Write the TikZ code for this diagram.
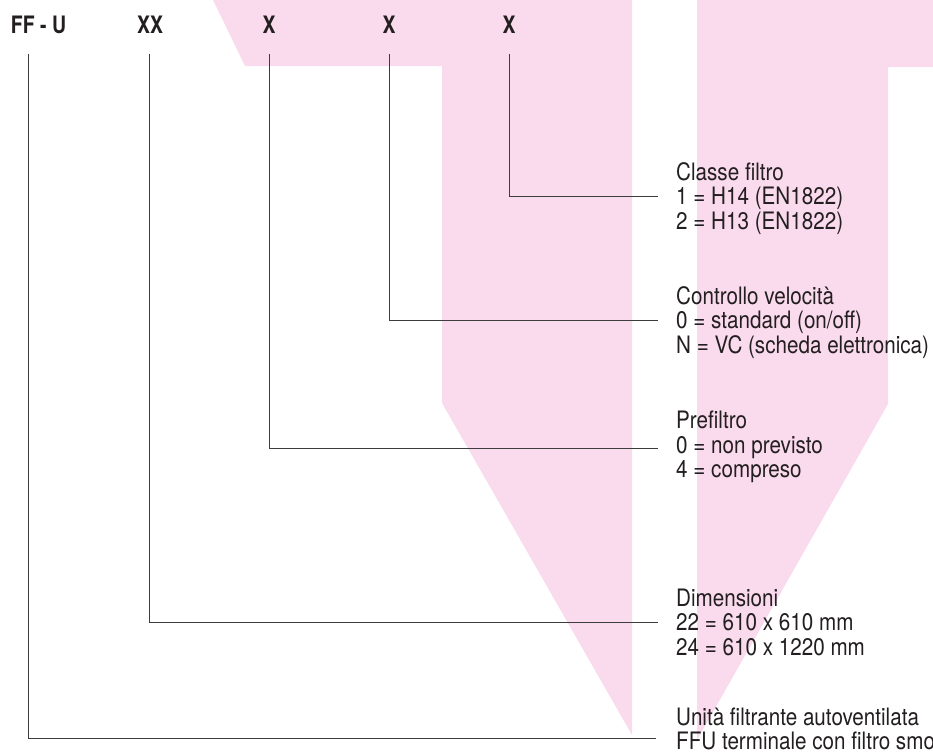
\documentclass[tikz,border=0pt]{standalone}
\usepackage{fontspec}
\setmainfont{TeX Gyre Heros}[FakeStretch=0.86, BoldFeatures={FakeStretch=0.81}]
\definecolor{tint}{RGB}{250,218,237}
\definecolor{ink}{RGB}{35,31,32}
\definecolor{rule}{RGB}{60,60,60}
\begin{document}
\begin{tikzpicture}[x=1pt,y=-1pt,
  code/.style={font=\bfseries\fontsize{24}{25}\selectfont, text=ink, inner sep=0pt, anchor=base},
  entry/.style={font=\fontsize{24}{24.5}\selectfont, text=ink, inner sep=0pt, anchor=base west},
  leader/.style={draw=rule, line width=1pt}]
\useasboundingbox (0,0) rectangle (933,755);
\clip (0,0) rectangle (933,755);

% pink background arrows
\fill[tint] (213,0) -- (632,0) -- (632,735) -- (442,403) -- (442,66) -- (245,66) -- cycle;
\fill[tint] (697,0) -- (940,0) -- (940,67) -- (888,67) -- (888,404) -- (697,740) -- cycle;

% code fields
\node[code] (ffu) at (38.5,33) {FF - U};
\node[code] (xx)  at (150,33) {XX};
\node[code] (pf)  at (269,33) {X};
\node[code] (vc)  at (389,33) {X};
\node[code] (cl)  at (509,33) {X};

% descriptions
\node[entry] (cl1) at (676,180)   {Classe filtro};
\node[entry] (cl2) at (676,204.5) {1 = H14 (EN1822)};
\node[entry] (cl3) at (676,229)   {2 = H13 (EN1822)};

\node[entry] (vc1) at (676,304)   {Controllo velocità};
\node[entry] (vc2) at (676,328.5) {0 = standard (on/off)};
\node[entry] (vc3) at (676,353)   {N = VC (scheda elettronica)};

\node[entry] (pf1) at (676,428)   {Prefiltro};
\node[entry] (pf2) at (676,453)   {0 = non previsto};
\node[entry] (pf3) at (676,477.5) {4 = compreso};

\node[entry] (xx1) at (676,606)   {Dimensioni};
\node[entry] (xx2) at (676,630.5) {22 = 610 x 610 mm};
\node[entry] (xx3) at (676,655)   {24 = 610 x 1220 mm};

\node[entry] (ffu1) at (676,725)   {Unità filtrante autoventilata};
\node[entry] (ffu2) at (676,749.5) {FFU terminale con filtro smontabile};

% leaders
\draw[leader] (cl.south) ++(0,21) |- ([shift={(-18,-8)}]cl2.base west);
\draw[leader] (vc.south) ++(0,21) |- ([shift={(-18,-8)}]vc2.base west);
\draw[leader] (pf.south) ++(0,21) |- ([shift={(-18,-5)}]pf2.base west);
\draw[leader] (xx.south) ++(-1,21) |- ([shift={(-18,-8)}]xx2.base west);
\draw[leader] ([xshift=-10.5]ffu.south) ++(0,21) |- ([shift={(-20,-11)}]ffu2.base west);
\end{tikzpicture}
\end{document}
